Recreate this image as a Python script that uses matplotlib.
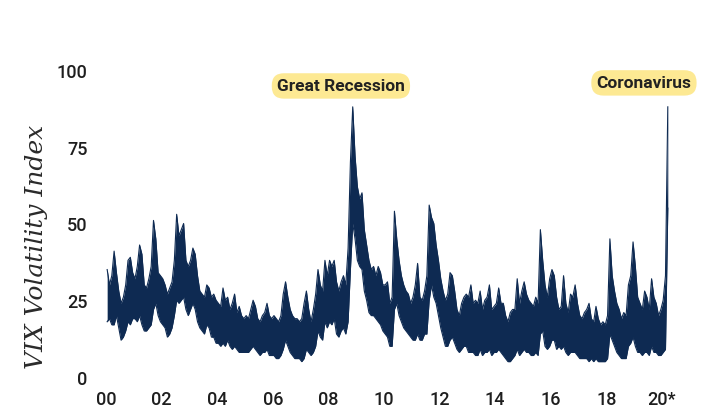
import numpy as np
import matplotlib
matplotlib.use('Agg')
import matplotlib.pyplot as plt

# monthly high / low of the VIX band, Jan 2000 .. Mar 2020
vix_high = [
    35, 30, 33, 41, 34, 28, 24, 26, 30, 38, 39, 34,   # 2000
    32, 36, 43, 40, 30, 29, 32, 36, 51, 45, 34, 33,   # 2001
    32, 30, 27, 29, 31, 38, 53, 46, 48, 50, 38, 36,   # 2002
    38, 42, 40, 33, 28, 27, 26, 30, 29, 26, 27, 25,   # 2003
    24, 23, 29, 25, 26, 22, 24, 27, 21, 23, 20, 19,   # 2004
    20, 19, 22, 25, 23, 19, 18, 20, 21, 24, 20, 19,   # 2005
    20, 19, 18, 20, 27, 31, 26, 22, 20, 19, 19, 18,   # 2006
    19, 24, 28, 22, 18, 22, 27, 35, 30, 28, 38, 33,   # 2007
    38, 36, 38, 31, 28, 31, 33, 30, 42, 70, 88, 72,   # 2008
    62, 58, 60, 48, 43, 38, 35, 36, 33, 36, 34, 30,   # 2009
    30, 31, 24, 26, 54, 45, 38, 33, 30, 28, 27, 24,   # 2010
    26, 30, 37, 26, 25, 28, 33, 56, 52, 50, 43, 38,   # 2011
    32, 28, 25, 27, 34, 33, 28, 22, 20, 24, 26, 27,   # 2012
    26, 30, 24, 25, 24, 28, 22, 25, 26, 30, 22, 23,   # 2013
    24, 29, 24, 24, 20, 18, 21, 22, 22, 32, 24, 28,   # 2014
    31, 27, 25, 24, 23, 26, 24, 48, 38, 30, 26, 32,   # 2015
    35, 33, 26, 22, 23, 33, 24, 21, 27, 26, 30, 24,   # 2016
    20, 19, 21, 22, 24, 19, 18, 23, 19, 17, 18, 17,   # 2017
    20, 45, 33, 28, 24, 22, 19, 21, 20, 30, 33, 44,   # 2018
    36, 26, 24, 22, 28, 26, 22, 32, 26, 24, 20, 22,   # 2019
    25, 33, 88,                                       # 2020
]
vix_low = [
    18, 19, 17, 17, 20, 16, 12, 13, 15, 18, 17, 19,
    19, 18, 20, 17, 15, 15, 16, 17, 22, 24, 20, 18,
    17, 16, 13, 14, 16, 20, 25, 24, 25, 26, 22, 20,
    22, 24, 22, 18, 16, 15, 14, 17, 16, 13, 13, 11,
    11, 10, 11, 10, 12, 10, 9, 10, 9, 8, 8, 8,
    8, 8, 9, 10, 9, 8, 7, 8, 8, 9, 7, 7,
    7, 6, 6, 7, 9, 12, 10, 8, 7, 6, 6, 6,
    5, 6, 9, 8, 7, 8, 10, 15, 13, 12, 18, 16,
    18, 17, 19, 14, 13, 15, 16, 14, 18, 35, 50, 45,
    38, 36, 35, 28, 25, 21, 20, 20, 19, 18, 17, 15,
    14, 13, 10, 10, 22, 24, 20, 18, 16, 15, 14, 13,
    12, 12, 14, 12, 12, 14, 14, 25, 30, 26, 24, 20,
    16, 13, 10, 10, 12, 13, 11, 9, 8, 9, 10, 10,
    8, 8, 8, 7, 7, 9, 7, 8, 8, 9, 7, 8,
    8, 9, 8, 7, 6, 5, 5, 6, 7, 9, 7, 8,
    9, 8, 8, 7, 7, 8, 7, 14, 15, 10, 9, 10,
    12, 12, 9, 10, 9, 10, 8, 7, 8, 8, 8, 7,
    6, 6, 6, 6, 5, 6, 5, 6, 5, 5, 5, 5,
    6, 14, 12, 10, 8, 7, 6, 6, 6, 10, 11, 13,
    10, 8, 8, 7, 8, 8, 7, 10, 8, 8, 7, 7,
    8, 9, 55,
]

tick_years = [2000, 2002, 2004, 2006, 2008, 2010, 2012, 2014, 2016, 2018, 2020]
tick_labels = ['00', '02', '04', '06', '08', '10', '12', '14', '16', '18', '20*']
y_ticks = [0, 25, 50, 75, 100]

navy = '#0e2a52'
dates = 2000 + (np.arange(len(vix_high)) + 0.5) / 12

fig = plt.figure(figsize=(7.02, 4.14), dpi=100)
ax = fig.add_axes([100 / 702, 29 / 414, 590 / 702, 325 / 414])

ax.fill_between(dates, vix_low, vix_high, color=navy, linewidth=0)
ax.plot(dates, vix_high, color=navy, lw=0.8)
ax.plot(dates, vix_low, color=navy, lw=0.8)

ax.set_xlim(1999.784, 2021.007)
ax.set_ylim(-2.28, 103.58)

for s in ax.spines.values():
    s.set_visible(False)
ax.tick_params(length=0)
ax.set_xticks(tick_years)
ax.set_xticklabels(tick_labels, fontsize=13, family='Roboto', fontweight='medium', color='#1e1e1e')
ax.set_yticks(y_ticks)
ax.set_yticklabels([str(v) for v in y_ticks], fontsize=13, family='Roboto', fontweight='medium',
                   color='#1e1e1e')
ax.tick_params(axis='x', pad=4)
ax.tick_params(axis='y', pad=9)

ax.set_ylabel('VIX Volatility Index', family='DejaVu Serif', style='italic',
              fontsize=18, color='#2a2a2a')
ax.yaxis.set_label_coords(-0.088, 0.425)

box = dict(boxstyle='round,pad=0.3,rounding_size=0.7', fc='#fde993', ec='none')
ax.text(2008.45, 94.8, 'Great Recession', ha='center', va='center', fontsize=12.5,
        family='Roboto', fontweight='bold', color='#222222', bbox=box)
ax.text(2019.35, 95.8, 'Coronavirus', ha='center', va='center', fontsize=12.5,
        family='Roboto', fontweight='bold', color='#222222', bbox=box)

fig.savefig('out.png', dpi=100)
